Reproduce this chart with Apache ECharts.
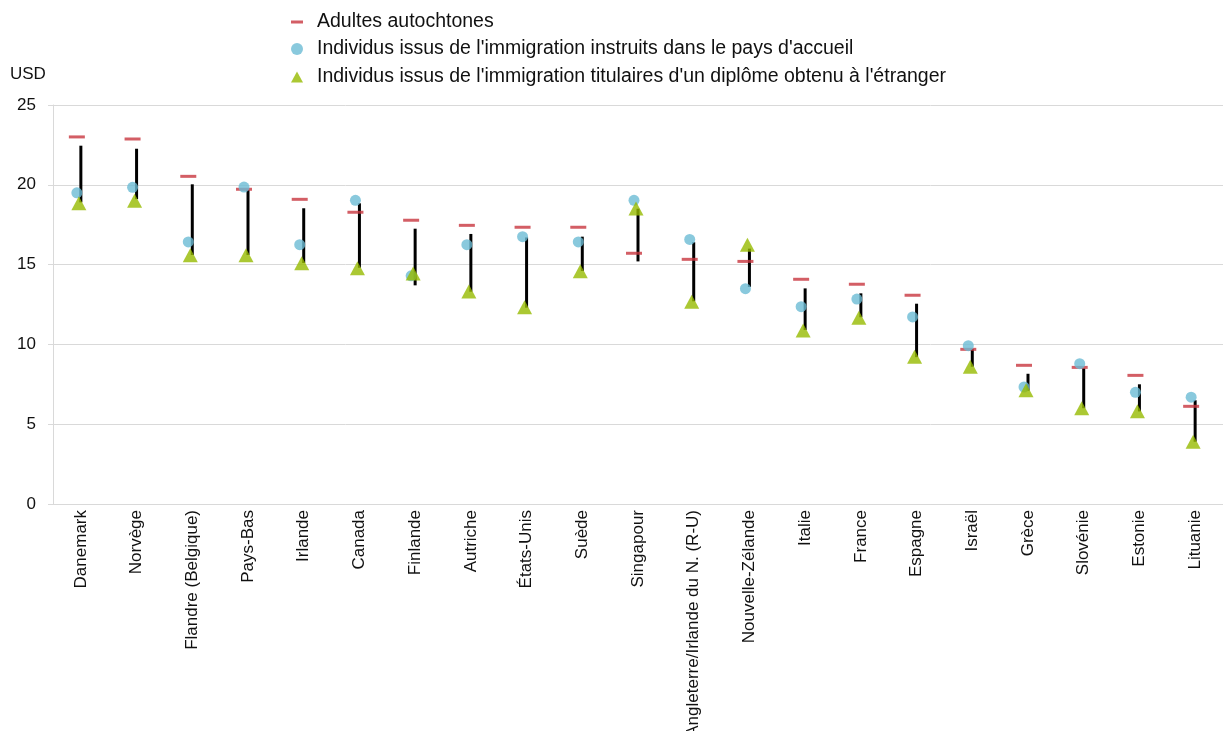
<!DOCTYPE html>
<html>
<head>
<meta charset="utf-8">
<script src="https://cdn.jsdelivr.net/npm/echarts@6/dist/echarts.min.js"></script>
<style>
html,body{margin:0;padding:0;background:#fff;}
#chart{width:1223px;height:731px;}
</style>
</head>
<body>
<div id="chart"></div>
<script>
const categories = ["Danemark","Norvège","Flandre (Belgique)","Pays-Bas","Irlande","Canada","Finlande","Autriche","États-Unis","Suède","Singapour","Angleterre/Irlande du N. (R-U)","Nouvelle-Zélande","Italie","France","Espagne","Israël","Grèce","Slovénie","Estonie","Lituanie"];
const autochtones = [23.0, 22.87, 20.53, 19.72, 19.09, 18.28, 17.78, 17.46, 17.34, 17.34, 15.71, 15.33, 15.2, 14.08, 13.77, 13.08, 9.69, 8.69, 8.56, 8.06, 6.12];
const instruitsPaysAccueil = [19.5, 19.84, 16.42, 19.86, 16.25, 19.03, 14.3, 16.25, 16.75, 16.42, 19.03, 16.58, 13.49, 12.36, 12.84, 11.72, 9.92, 7.33, 8.79, 7.0, 6.69];
const diplomeEtranger = [18.84, 19.0, 15.59, 15.59, 15.08, 14.77, 14.45, 13.31, 12.32, 14.58, 18.52, 12.67, 16.24, 10.87, 11.67, 9.23, 8.6, 7.13, 6.0, 5.81, 3.9];
const ecartBas = [18.9, 19.1, 15.6, 15.6, 15.1, 14.8, 13.7, 13.3, 12.3, 14.6, 15.2, 12.7, 13.6, 10.9, 11.7, 9.2, 8.6, 7.1, 6.0, 5.8, 3.9];
const ecartHaut = [22.45, 22.26, 20.03, 19.67, 18.53, 18.84, 17.25, 16.92, 16.7, 16.75, 18.5, 16.4, 16.0, 13.51, 13.2, 12.55, 9.7, 8.16, 8.5, 7.5, 6.5];
const yTicks = {min: 0, max: 25, interval: 5};

const names = ["Adultes autochtones", "Individus issus de l'immigration instruits dans le pays d'accueil", "Individus issus de l'immigration titulaires d'un diplôme obtenu à l'étranger"];
const font = "'Liberation Sans', Arial, Helvetica, sans-serif";
const RED = '#c8363f', BLUE = '#6bbbd5', GREEN = '#96ba00';

const chart = echarts.init(document.getElementById('chart'));
const legendText = {fontSize: 19.5, color: '#111', fontFamily: font, padding: [0,0,0,9]};
chart.setOption({
  animation: false,
  textStyle: {fontFamily: font},
  title: {text: 'USD', left: 10, top: 66, padding: 0, textStyle: {fontSize: 17, fontWeight: 'normal', color: '#111', fontFamily: font}},
  legend: [
    {data: [names[0]], left: 291, top: 12, padding: 0, icon: 'rect', itemWidth: 12, itemHeight: 3, textStyle: legendText, selectedMode: false},
    {data: [names[1]], left: 291, top: 39, padding: 0, icon: 'circle', itemWidth: 12, itemHeight: 12, textStyle: legendText, selectedMode: false},
    {data: [names[2]], left: 291, top: 67, padding: 0, icon: 'triangle', itemWidth: 12, itemHeight: 11, textStyle: legendText, selectedMode: false}
  ],
  grid: {left: 53, right: 0, top: 105, bottom: 227, containLabel: false, outerBoundsMode: 'none'},
  xAxis: {
    type: 'category', data: categories, boundaryGap: true,
    axisLine: {lineStyle: {color: '#d9d9d9', width: 1}},
    axisTick: {inside: true, length: 5, lineStyle: {color: '#d9d9d9'}},
    axisLabel: {rotate: 90, interval: 0, fontSize: 17, color: '#111', margin: 6, fontFamily: font}
  },
  yAxis: {
    type: 'value', min: yTicks.min, max: yTicks.max, interval: yTicks.interval,
    axisLine: {show: true, lineStyle: {color: '#d9d9d9'}},
    axisTick: {show: true, length: 5, lineStyle: {color: '#d9d9d9'}},
    axisLabel: {fontSize: 17, color: '#111', margin: 17, fontFamily: font},
    splitLine: {lineStyle: {color: '#d9d9d9', width: 1}}
  },
  series: [
    {type: 'bar', stack: 'ecart', data: ecartBas, barWidth: 3, itemStyle: {color: 'transparent'}, silent: true, z: 1},
    {type: 'bar', stack: 'ecart', data: ecartHaut.map((h, i) => +(h - ecartBas[i]).toFixed(2)), barWidth: 3, itemStyle: {color: '#000'}, silent: true, z: 1},
    {name: names[0], type: 'scatter', data: autochtones, symbol: 'rect', symbolSize: [16, 3], symbolOffset: [-4, 0], itemStyle: {color: RED}, z: 3},
    {name: names[1], type: 'scatter', data: instruitsPaysAccueil, symbol: 'circle', symbolSize: 11, symbolOffset: [-4, 0], itemStyle: {color: BLUE}, z: 4},
    {name: names[2], type: 'scatter', data: diplomeEtranger, symbol: 'triangle', symbolSize: [15, 14], symbolOffset: [-2, 0], itemStyle: {color: GREEN}, z: 5}
  ]
});
</script>
</body>
</html>
